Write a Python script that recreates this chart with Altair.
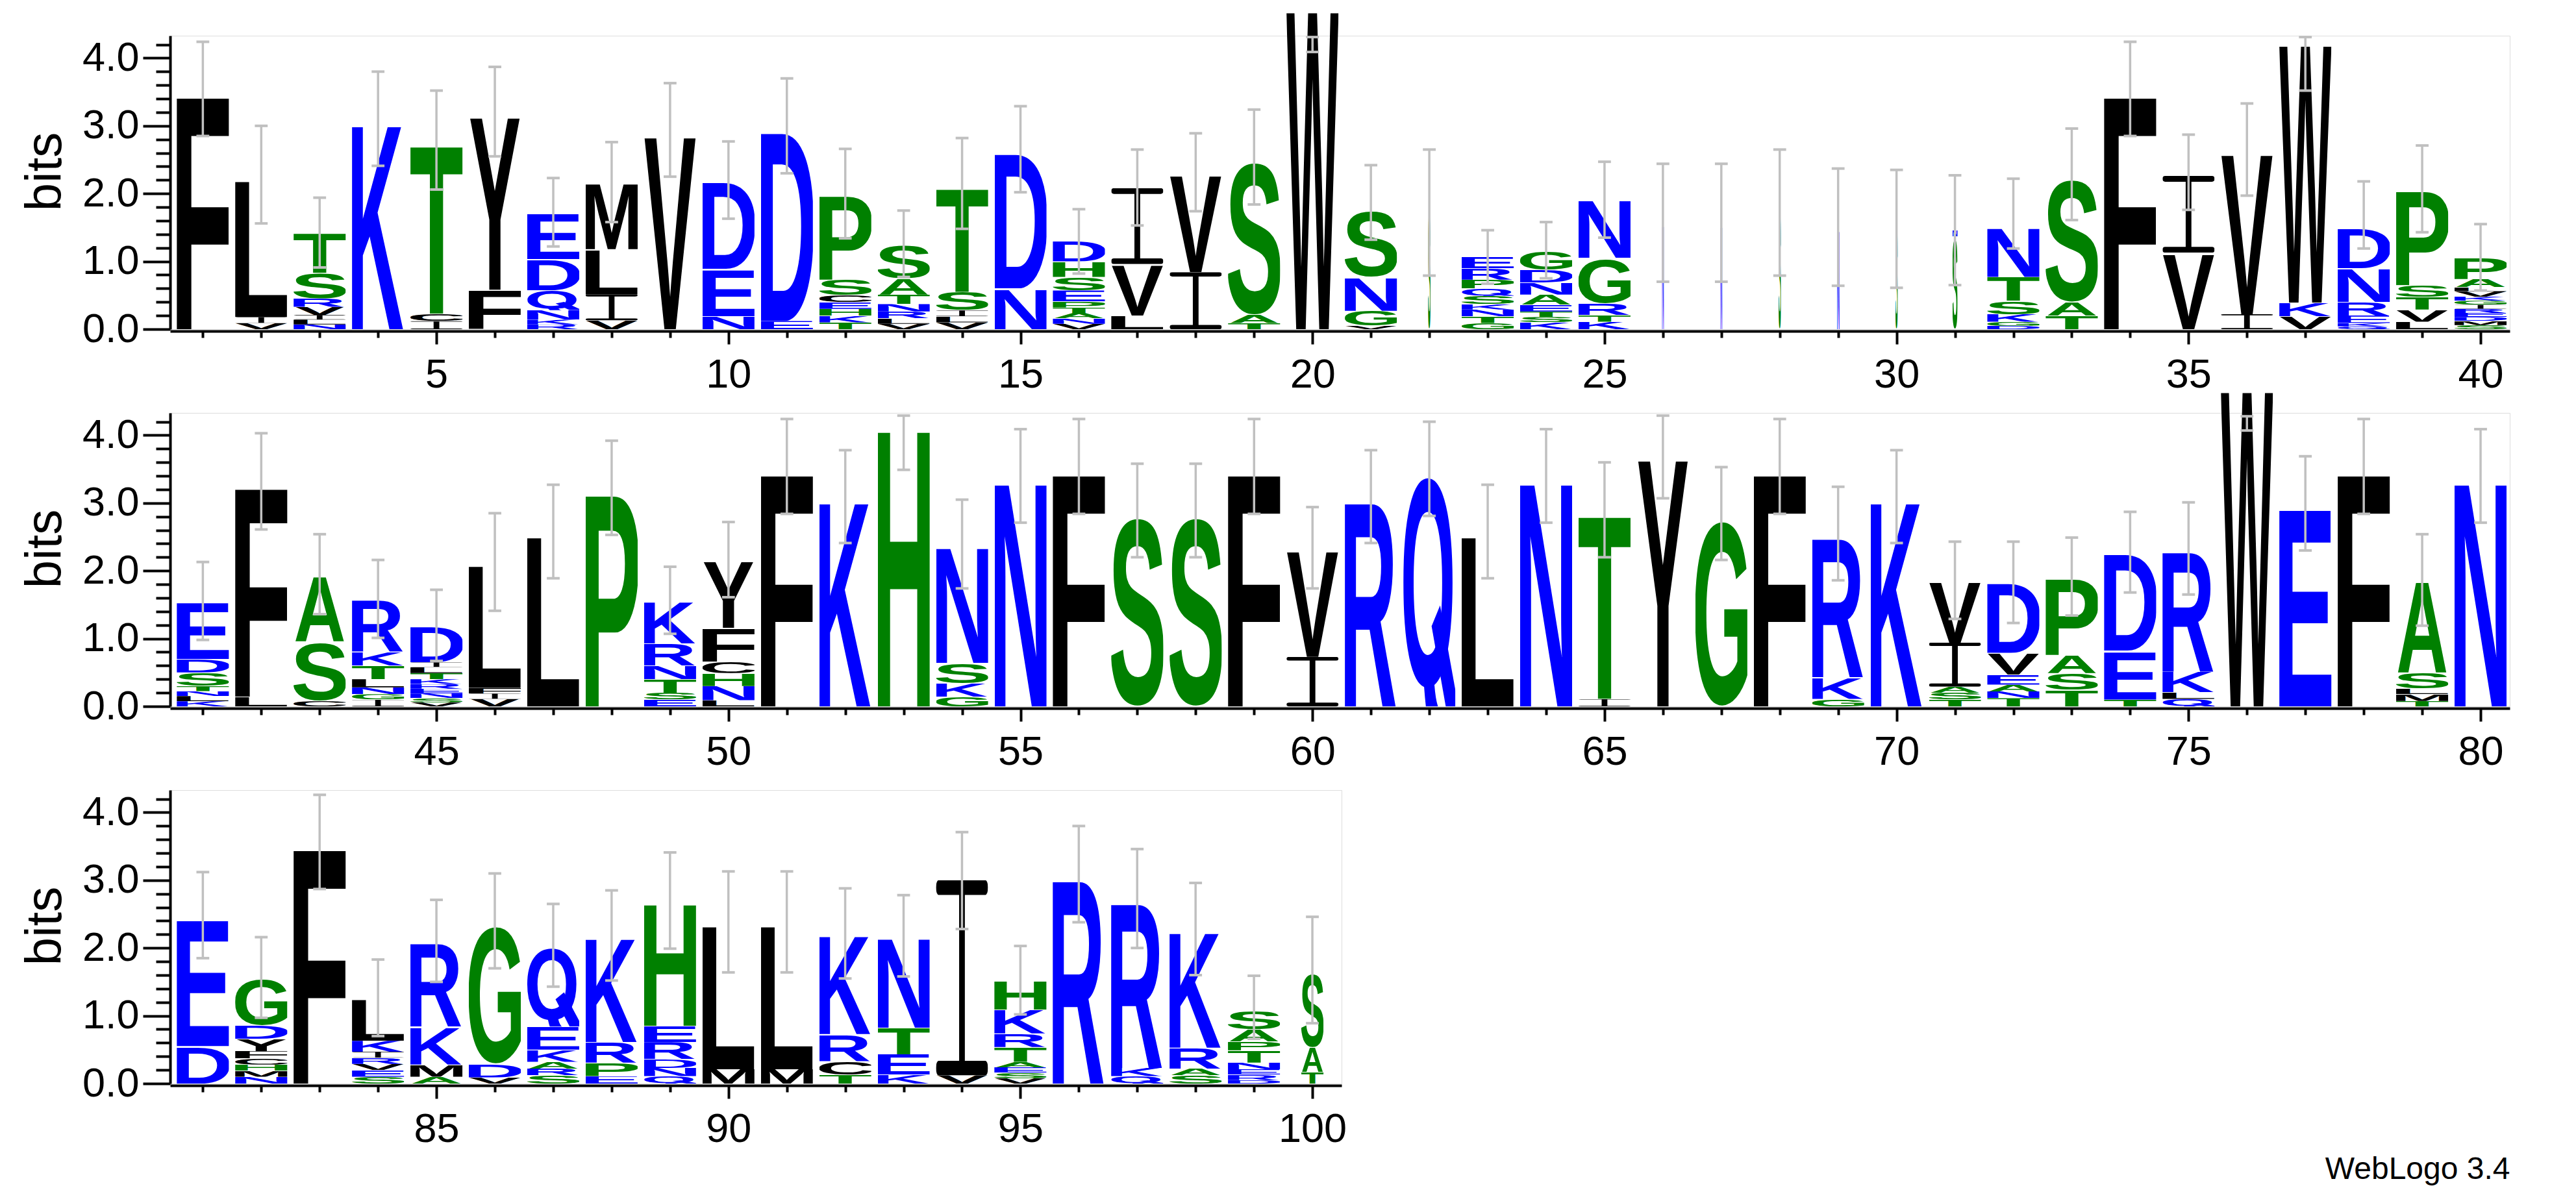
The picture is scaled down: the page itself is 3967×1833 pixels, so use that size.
import urllib.parse
import altair as alt
import pandas as pd

FONT = "Liberation Sans"

positions = list(range(1, 101))

# letters of each stack, listed from top to bottom
stack_letters = [
    "F", "LIV", "TSRVILN", "K", "TCI", "YF", "EDQNKR", "MLIV", "V", "DEN",
    "DE", "PSCEHKT", "SATNRLV", "TSILV", "DN", "DHSEPTANV", "IVL", "VI", "SAT", "W",
    "SNGV", "S", "ERPQSKNTG", "GDNAETSK", "NGRTK", "N", "N", "S", "N", "S",
    "NS", "NTSKGD", "SAT", "F", "IV", "VI", "WKV", "DNREKQ", "PSTVL", "PALVKGIREDMS",
    "EDSTNLK", "FL", "ASC", "RKTLNGI", "DILTKRENSV", "LFIV", "L", "P", "KRNTSE", "YFCHNL",
    "F", "K", "H", "NSKG", "N", "F", "S", "S", "F", "VI",
    "R", "Q", "L", "N", "TI", "Y", "G", "F", "RKG", "K",
    "VIAST", "DVEANT", "PAST", "DET", "RKLQ", "W", "E", "F", "ASLMT", "N",
    "ED", "GDYFCHMN", "F", "LKIRVES", "RKMA", "GDV", "QEKARS", "KRPE", "HERDNQ", "LM",
    "LM", "KRCT", "NTEK", "IV", "HKRTAESV", "R", "RKQ", "KRAS", "SAPTNERD", "SAT",
]

# heights in bits, same order (top to bottom)
stack_heights = [
    [3.54], [2.07, 0.09, 0.09], [0.6, 0.38, 0.12, 0.12, 0.07, 0.07, 0.07], [3.10],
    [2.55, 0.11, 0.12], [2.63, 0.58], [0.69, 0.46, 0.29, 0.14, 0.07, 0.07],
    [0.99, 0.67, 0.38, 0.13], [2.93], [1.31, 0.70, 0.19],
    [2.87, 0.12], [1.27, 0.23, 0.10, 0.10, 0.10, 0.10, 0.10],
    [0.50, 0.24, 0.14, 0.11, 0.10, 0.08, 0.08], [1.57, 0.27, 0.09, 0.09, 0.10],
    [2.05, 0.60], [0.30, 0.23, 0.20, 0.16, 0.09, 0.08, 0.08, 0.08, 0.08],
    [1.12, 0.76, 0.20], [1.47, 0.84], [2.33, 0.12, 0.09], [4.85],
    [1.00, 0.50, 0.22, 0.05], [1.71], [0.17, 0.17, 0.13, 0.11, 0.12, 0.08, 0.10, 0.10, 0.09],
    [0.27, 0.19, 0.18, 0.15, 0.10, 0.08, 0.08, 0.10], [0.87, 0.67, 0.17, 0.10, 0.11],
    [1.57], [1.56], [1.71], [1.49], [1.48],
    [0.09, 1.37], [0.74, 0.35, 0.20, 0.11, 0.06, 0.05], [1.87, 0.20, 0.20], [3.54],
    [1.13, 1.13], [2.43, 0.22], [3.93, 0.20, 0.19], [0.60, 0.50, 0.20, 0.11, 0.05, 0.04],
    [1.42, 0.17, 0.19, 0.18, 0.11],
    [0.32, 0.12, 0.06, 0.08, 0.06, 0.06, 0.06, 0.06, 0.06, 0.06, 0.06, 0.06],
    [0.85, 0.20, 0.20, 0.075, 0.075, 0.075, 0.075], [3.18, 0.14], [0.98, 0.88, 0.08],
    [0.78, 0.20, 0.20, 0.12, 0.10, 0.08, 0.10],
    [0.53, 0.07, 0.09, 0.09, 0.07, 0.07, 0.07, 0.07, 0.06, 0.06],
    [1.86, 0.08, 0.08, 0.11], [2.58], [3.22], [0.62, 0.33, 0.20, 0.20, 0.10, 0.10],
    [1.00, 0.50, 0.17, 0.19, 0.21, 0.09],
    [3.53], [3.10], [4.20], [1.75, 0.30, 0.20, 0.14], [3.39], [3.53], [2.88], [2.88],
    [3.53], [1.60, 0.73],
    [3.10], [3.50], [2.58], [3.39], [2.78, 0.11], [3.76], [2.83], [3.53],
    [2.11, 0.32, 0.11], [3.10],
    [0.91, 0.65, 0.09, 0.10, 0.10], [1.05, 0.32, 0.15, 0.10, 0.10, 0.12],
    [1.16, 0.27, 0.25, 0.24], [1.46, 0.72, 0.10], [1.82, 0.30, 0.10, 0.11], [4.81],
    [3.00], [3.53], [1.37, 0.24, 0.08, 0.10, 0.08], [3.39],
    [1.92, 0.55], [0.70, 0.20, 0.18, 0.11, 0.09, 0.09, 0.09, 0.10], [3.57],
    [0.62, 0.16, 0.09, 0.09, 0.09, 0.10, 0.10], [1.26, 0.56, 0.18, 0.10],
    [2.10, 0.20, 0.09], [1.19, 0.34, 0.18, 0.10, 0.10, 0.12], [1.57, 0.30, 0.20, 0.11],
    [1.85, 0.24, 0.25, 0.13, 0.12, 0.11], [2.18, 0.21],
    [2.18, 0.21], [1.49, 0.40, 0.20, 0.13], [1.35, 0.39, 0.30, 0.13], [2.88, 0.12],
    [0.43, 0.35, 0.20, 0.22, 0.08, 0.08, 0.08, 0.08], [3.09], [2.50, 0.12, 0.11],
    [1.75, 0.31, 0.10, 0.12], [0.28, 0.18, 0.13, 0.18, 0.10, 0.08, 0.08, 0.05],
    [1.12, 0.37, 0.17],
]

err_lo = [
    2.85, 1.56, 0.91, 2.41, 2.06, 2.55, 1.22, 1.58, 2.25, 1.63,
    2.30, 1.34, 0.77, 1.48, 2.02, 0.82, 1.53, 1.74, 1.84, 4.09,
    1.32, 0.79, 0.67, 0.75, 1.35, 0.70, 0.70, 0.79, 0.64, 0.61,
    0.65, 1.19, 1.61, 2.85, 1.76, 1.97, 3.52, 1.19, 1.43, 0.57,
    0.98, 2.61, 1.36, 1.01, 0.67, 1.41, 1.89, 2.53, 1.07, 1.61,
    2.84, 2.41, 3.49, 1.74, 2.71, 2.84, 2.20, 2.20, 2.84, 1.74,
    2.41, 2.81, 1.89, 2.71, 2.20, 3.07, 2.16, 2.84, 1.86, 2.41,
    1.29, 1.23, 1.34, 1.68, 1.65, 4.07, 2.30, 2.84, 1.19, 2.71,
    1.85, 0.97, 2.87, 0.70, 1.50, 1.70, 1.43, 1.52, 1.99, 1.64,
    1.64, 1.55, 1.58, 2.28, 1.02, 2.38, 2.00, 1.60, 0.66, 0.89,
]
err_hi = [
    4.24, 3.00, 1.94, 3.80, 3.52, 3.87, 2.23, 2.76, 3.63, 2.77,
    3.70, 2.66, 1.75, 2.82, 3.29, 1.77, 2.65, 2.89, 3.24, 4.31,
    2.42, 2.65, 1.46, 1.58, 2.47, 2.44, 2.44, 2.65, 2.37, 2.35,
    2.27, 2.22, 2.96, 4.24, 2.87, 3.33, 4.31, 2.18, 2.71, 1.55,
    2.13, 4.03, 2.54, 2.16, 1.72, 2.85, 3.27, 3.92, 2.06, 2.72,
    4.24, 3.78, 4.29, 3.05, 4.09, 4.24, 3.58, 3.58, 4.24, 2.94,
    3.78, 4.20, 3.27, 4.09, 3.60, 4.29, 3.53, 4.24, 3.24, 3.78,
    2.43, 2.43, 2.49, 2.87, 3.01, 4.28, 3.69, 4.24, 2.54, 4.09,
    3.12, 2.16, 4.26, 1.83, 2.71, 3.10, 2.65, 2.85, 3.41, 3.13,
    3.13, 2.88, 2.78, 3.71, 2.03, 3.80, 3.46, 2.96, 1.59, 2.46,
]

# stacks made narrow by gaps in the alignment
narrow_stacks = {22: 0.045, 26: 0.035, 27: 0.035, 28: 0.045, 29: 0.045,
                 30: 0.045, 31: 0.09, 100: 0.38}
FULL_WIDTH = 0.89

assert len(stack_letters) == 100 and len(stack_heights) == 100
for s, h in zip(stack_letters, stack_heights):
    assert len(s) == len(h), (s, h)

COLORS = {}
for c in "RKDENQ":
    COLORS[c] = "#0000FF"
for c in "SGHTAP":
    COLORS[c] = "#008000"
for c in "YVMCLFIW":
    COLORS[c] = "#000000"

# approximate ink box of each bold glyph at font-size 100
INK_X = {
    "A": (0, 72), "C": (4.4, 67), "D": (7.4, 67), "E": (7.4, 61.6), "F": (7.4, 56.5),
    "G": (4.4, 71.2), "H": (7.4, 64.8), "K": (7.6, 72.6),
    "L": (7.6, 58.3), "M": (7.2, 76.1), "N": (7.4, 64.8), "P": (7.4, 62.2),
    "Q": (4, 77.5), "R": (7.4, 71.8), "S": (3.5, 62.4), "T": (2.1, 58.9),
    "V": (0, 66.7), "W": (0.3, 94.1), "Y": (0, 66.7),
}
ROUND = set("CGOS")


def glyph_url(letter):
    col = COLORS[letter]
    if letter == "I":
        # serif-style I, as drawn by WebLogo
        svg = (
            '<svg xmlns="http://www.w3.org/2000/svg" width="100" height="100" '
            'viewBox="0 0 100 100" preserveAspectRatio="none">'
            f'<rect x="0" y="0" width="100" height="7.5" rx="5" ry="3.5" fill="{col}"/>'
            f'<rect x="44.5" y="3" width="11" height="94" fill="{col}"/>'
            f'<rect x="0" y="92.5" width="100" height="7.5" rx="5" ry="3.5" fill="{col}"/>'
            '</svg>'
        )
        return "data:image/svg+xml;charset=utf-8," + urllib.parse.quote(svg)
    x0, x1 = INK_X[letter]
    extra = ""
    if letter == "Q":
        top, bot = -72.9, 7.0
        # a more pronounced tail, like the WebLogo Q
        extra = (f'<polygon points="44,-20 56,-27 78,2 78,7 64,7" fill="{col}"/>')
    elif letter in ROUND:
        top, bot = -72.9, 1.3
    else:
        top, bot = -71.6, 0.0
    w, h = x1 - x0, bot - top
    svg = (
        f'<svg xmlns="http://www.w3.org/2000/svg" width="{w:.1f}" height="{h:.1f}" '
        f'viewBox="{x0} {top} {w:.2f} {h:.2f}" preserveAspectRatio="none">'
        f'<text x="0" y="0" font-family="Liberation Sans, Arial, Helvetica, sans-serif" '
        f'font-weight="bold" font-size="100" fill="{col}">{letter}</text>{extra}</svg>'
    )
    return "data:image/svg+xml;charset=utf-8," + urllib.parse.quote(svg)


URLS = {c: glyph_url(c) for c in COLORS}

glyph_rows = []
for p, letters, heights in zip(positions, stack_letters, stack_heights):
    w = narrow_stacks.get(p, FULL_WIDTH)
    base = 0.0
    for c, hgt in zip(reversed(letters), reversed(heights)):
        glyph_rows.append({"pos": p, "xa": p - w / 2, "xb": p + w / 2,
                           "ya": base, "yb": base + hgt, "url": URLS[c]})
        base += hgt
glyphs = pd.DataFrame(glyph_rows)

err = pd.DataFrame({"pos": positions, "lo": err_lo, "hi": err_hi})
CAP = 0.11
caps = pd.concat([
    pd.DataFrame({"pos": positions, "cl": [p - CAP for p in positions],
                  "cr": [p + CAP for p in positions], "cy": err_lo}),
    pd.DataFrame({"pos": positions, "cl": [p - CAP for p in positions],
                  "cr": [p + CAP for p in positions], "cy": err_hi}),
])

Y_MAX = 4.33
PX_PER_POS = 89.95
ROW_H = 452
y_ticks = [round(0.2 * i, 1) for i in range(22)]
IS_INT = "abs(datum.value - round(datum.value)) < 0.001"

y_axis = alt.Axis(
    values=y_ticks, title="bits", grid=False,
    labelExpr=f"{IS_INT} ? format(datum.value, '.1f') : ''",
    tickSize={"condition": {"test": IS_INT, "value": 42}, "value": 22},
    tickWidth=4, tickColor="black", domainWidth=4, domainColor="black",
    labelFont=FONT, labelFontSize=63, labelColor="black", labelPadding=6,
    labelOverlap=False, labelFlush=False,
    titleFont=FONT, titleFontSize=78, titleFontWeight="normal", titleColor="black",
    titleAngle=270, titleAlign="center", titleBaseline="middle",
    titleX=-192, titleY=209,
)


def make_row(p0, p1):
    lo_dom = p0 - 0.56
    hi_dom = p1 + 0.5
    width = round((hi_dom - lo_dom) * PX_PER_POS)
    xs = alt.Scale(domain=[lo_dom, hi_dom], nice=False, zero=False)
    ys = alt.Scale(domain=[0, Y_MAX], nice=False, zero=True)
    x_axis = alt.Axis(
        values=list(range(p0, p1 + 1)), title=None, grid=False,
        labelExpr="datum.value % 5 === 0 ? datum.value : ''",
        tickSize={"condition": {"test": "datum.value % 5 === 0", "value": 20}, "value": 10},
        tickWidth=4, tickColor="black", domainWidth=4, domainColor="black",
        labelFont=FONT, labelFontSize=63, labelColor="black", labelPadding=16,
        labelOverlap=False, labelFlush=False, offset=3,
    )
    g = glyphs[(glyphs.pos >= p0) & (glyphs.pos <= p1)]
    e = err[(err.pos >= p0) & (err.pos <= p1)]
    c = caps[(caps.pos >= p0) & (caps.pos <= p1)]

    letters_layer = alt.Chart(g).mark_image(aspect=False).encode(
        x=alt.X("xa:Q", scale=xs, axis=x_axis),
        x2="xb:Q",
        y=alt.Y("ya:Q", scale=ys, axis=y_axis),
        y2="yb:Q",
        url="url:N",
    )
    bars = alt.Chart(e).mark_rule(color="#C0C0C0", strokeWidth=3.5).encode(
        x=alt.X("pos:Q", scale=xs, axis=x_axis),
        y=alt.Y("lo:Q", scale=ys, axis=y_axis),
        y2="hi:Q",
    )
    cap_layer = alt.Chart(c).mark_rule(color="#C0C0C0", strokeWidth=4).encode(
        x=alt.X("cl:Q", scale=xs, axis=x_axis),
        x2="cr:Q",
        y=alt.Y("cy:Q", scale=ys, axis=y_axis),
    )
    return alt.layer(letters_layer, bars, cap_layer).properties(width=width, height=ROW_H)


chart = alt.vconcat(
    make_row(1, 40), make_row(41, 80), make_row(81, 100),
    spacing=129, bounds="flush",
).properties(
    title=alt.TitleParams("WebLogo 3.4", orient="bottom", anchor="end", fontSize=48,
                          font=FONT, fontWeight="normal", color="black", offset=6),
    padding={"left": 22, "top": -8, "right": 8, "bottom": 8},
).configure_view(stroke=None).configure(background="white")

chart.save("out.html", embed_options={"renderer": "svg", "actions": False})
